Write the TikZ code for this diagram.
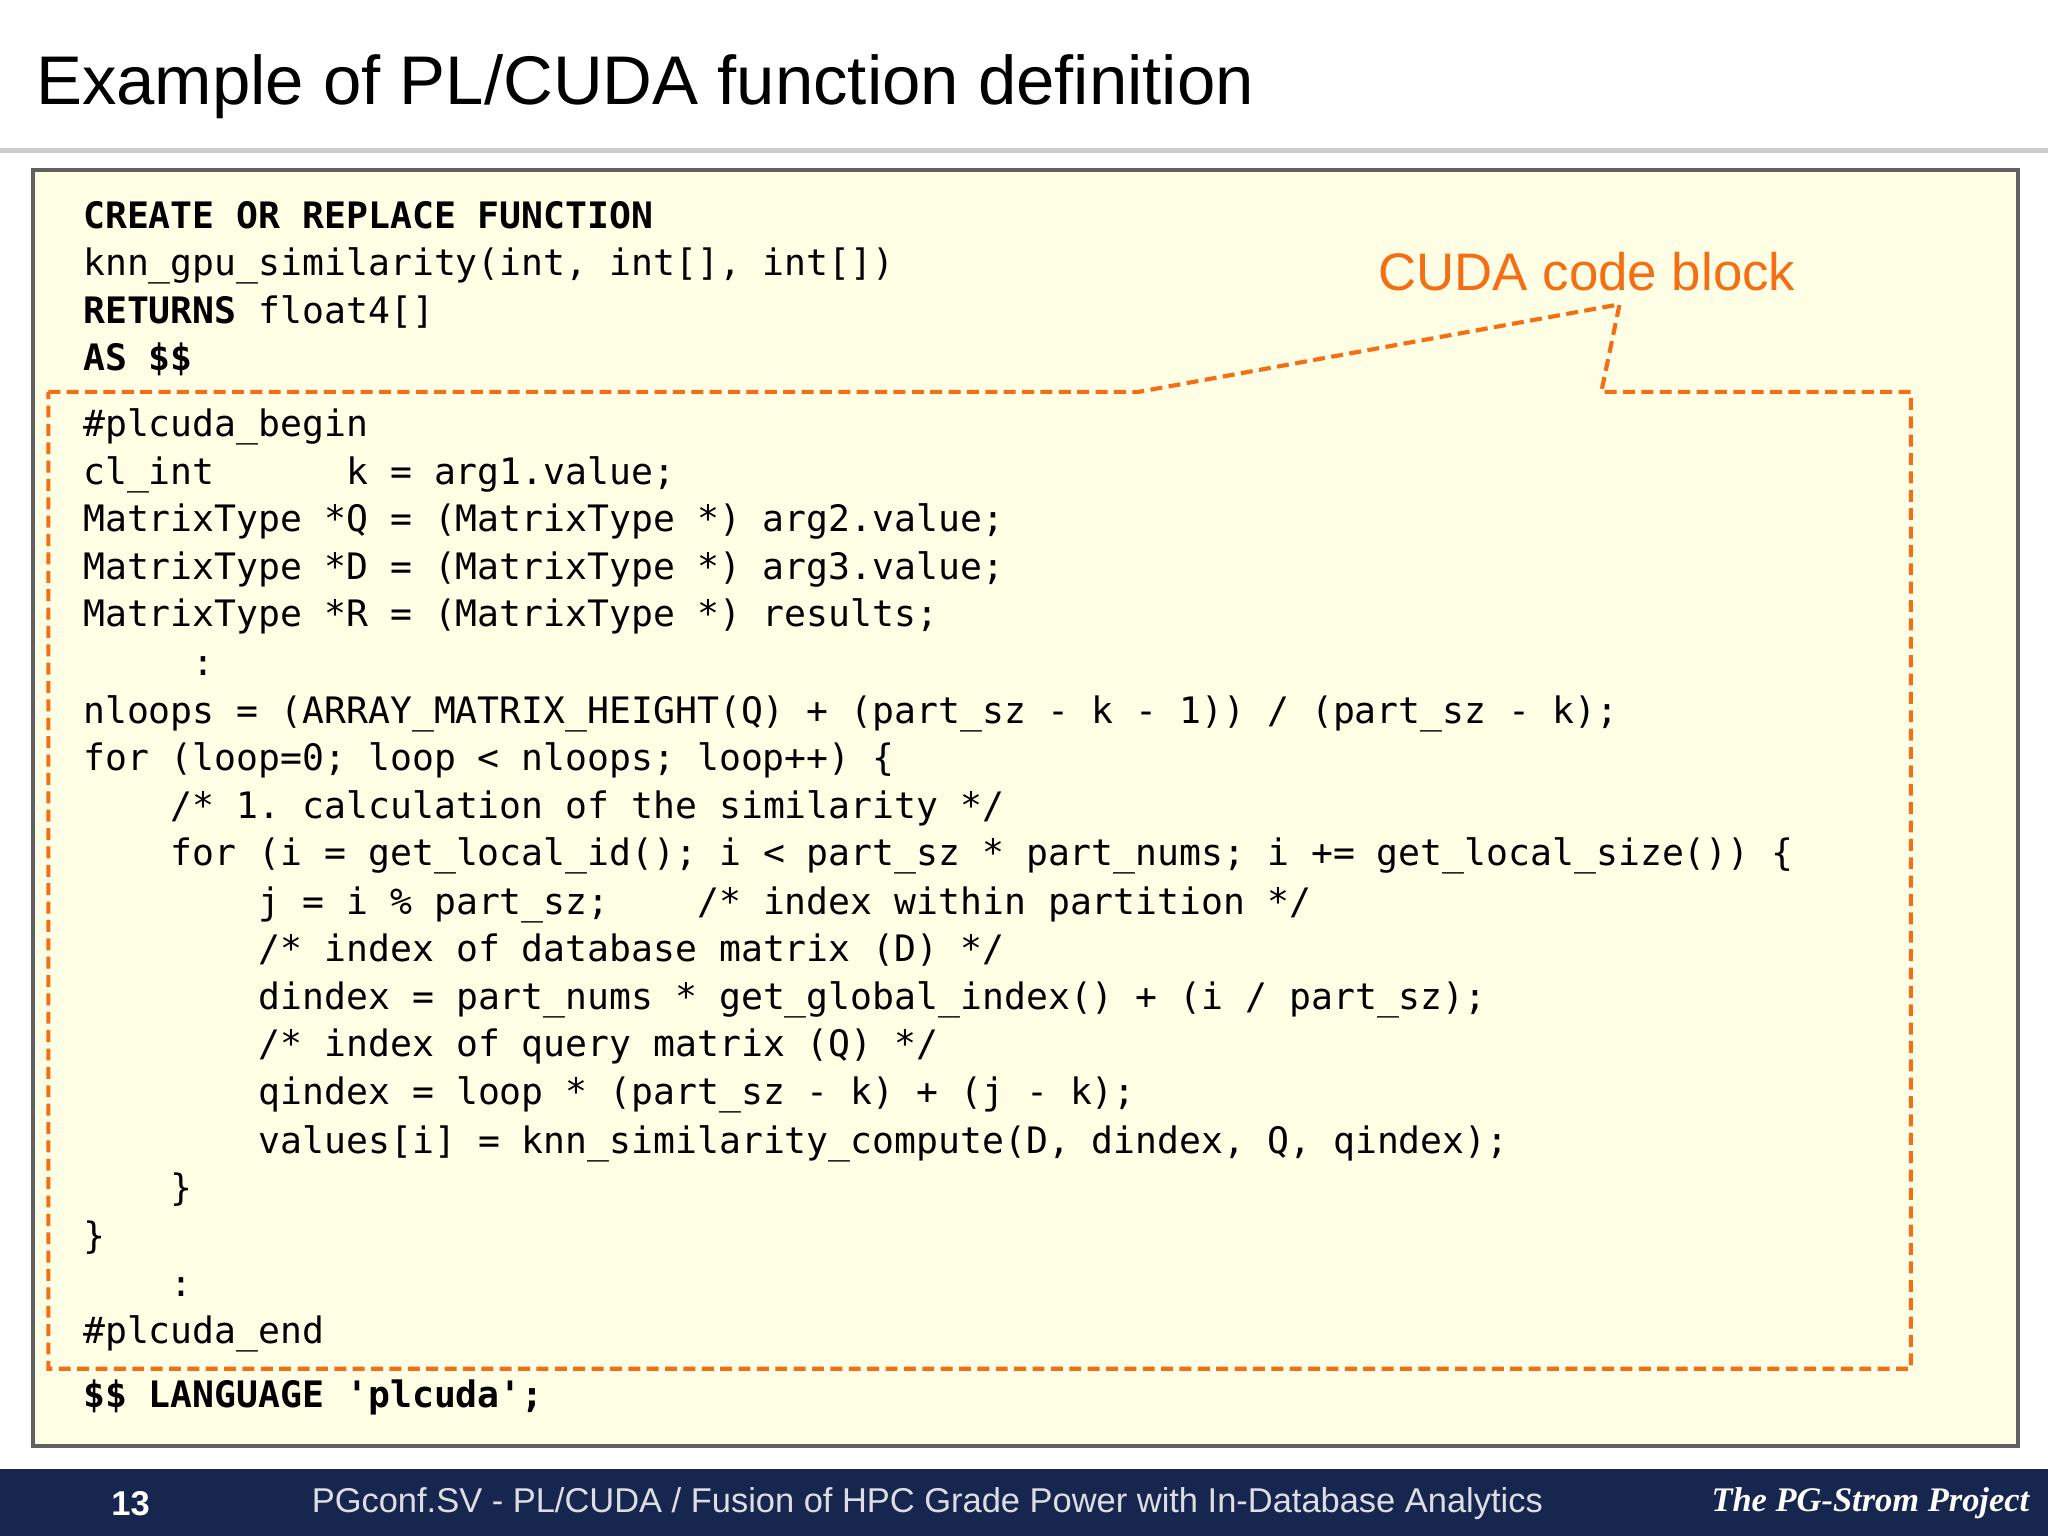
\documentclass[tikz,border=0pt]{standalone}
\usepackage{fontspec}
\setmainfont{Liberation Sans}
\setmonofont{DejaVu Sans Mono}
\begin{document}
\begin{tikzpicture}[x=0.01cm,y=-0.01cm,
  code/.style={anchor=base west,inner sep=0pt,font=\ttfamily\fontsize{7.93}{9}\selectfont},
  bcode/.style={code,font=\ttfamily\bfseries\fontsize{7.93}{9}\selectfont}]
\definecolor{bg}{RGB}{255,255,230}
\definecolor{org}{RGB}{245,110,20}
\definecolor{navy}{RGB}{22,38,78}
\useasboundingbox (0,0) rectangle (1568,1176);
\fill[white] (0,0) rectangle (1568,1176);
\node[anchor=base west,inner sep=0pt,font=\fontsize{15}{18}\selectfont] (title) at (27,80) {Example of PL/CUDA function definition};
\fill[gray!40] (0,113) rectangle (1568,117);
\draw[gray!75!black,line width=0.9pt,fill=bg] (25,130) rectangle (1545,1107);
\coordinate (c) at (1240,233);
\draw[org,line width=0.9pt,dash pattern=on 2.6pt off 1.4pt] (37,300) -- (872,300) -- (c) -- (1226,300) -- (1463,300) -- (1463,1048) -- (37,1048) -- cycle;
\node[org,font=\fontsize{11.5}{14}\selectfont,inner sep=0pt] (lbl) at (1215,208) {CUDA code block};
\def\X{63}\def\I{130.2}\def\II{197.4}
\node[bcode] (l1) at (\X,175) {CREATE OR REPLACE FUNCTION};
\node[code] (l2) at (\X,211) {knn\_gpu\_similarity(int, int[], int[])};
\node[code] (l3) at (\X,248) {\textbf{RETURNS} float4[]};
\node[bcode] (l4) at (\X,284) {AS \$\$};
\node[code] (l5) at (\X,334) {\#plcuda\_begin};
\node[code] (l6) at (\X,371) {cl\_int~~~~~~k = arg1.value;};
\node[code] (l7) at (\X,407) {MatrixType *Q = (MatrixType *) arg2.value;};
\node[code] (l8) at (\X,444) {MatrixType *D = (MatrixType *) arg3.value;};
\node[code] (l9) at (\X,480) {MatrixType *R = (MatrixType *) results;};
\node[code] (l10) at (\X,517) {~~~~~:};
\node[code] (l11) at (\X,554) {nloops = (ARRAY\_MATRIX\_HEIGHT(Q) + (part\_sz - k - 1)) / (part\_sz - k);};
\node[code] (l12) at (\X,590) {for (loop=0; loop < nloops; loop++) \{};
\node[code] (l13) at (\I,627) {/* 1. calculation of the similarity */};
\node[code] (l14) at (\I,663) {for (i = get\_local\_id(); i < part\_sz * part\_nums; i += get\_local\_size()) \{};
\node[code] (l15) at (\II,700) {j = i \% part\_sz;~~~~/* index within partition */};
\node[code] (l16) at (\II,736) {/* index of database matrix (D) */};
\node[code] (l17) at (\II,773) {dindex = part\_nums * get\_global\_index() + (i / part\_sz);};
\node[code] (l18) at (\II,809) {/* index of query matrix (Q) */};
\node[code] (l19) at (\II,846) {qindex = loop * (part\_sz - k) + (j - k);};
\node[code] (l20) at (\II,883) {values[i] = knn\_similarity\_compute(D, dindex, Q, qindex);};
\node[code] (l21) at (\I,919) {\}};
\node[code] (l22) at (\X,956) {\}};
\node[code] (l23) at (\I,993) {:};
\node[code] (l24) at (\X,1029) {\#plcuda\_end};
\node[bcode] (l25) at (\X,1078) {\$\$ LANGUAGE 'plcuda';};
\fill[navy] (0,1125) rectangle (1568,1176);
\node[white,font=\bfseries\fontsize{7.5}{9}\selectfont] (pg) at (100,1151) {13};
\node[white!85!navy,font=\fontsize{7.5}{9}\selectfont] (ft) at (710,1151) {PGconf.SV - PL/CUDA / Fusion of HPC Grade Power with In-Database Analytics};
\node[white,font=\bfseries\itshape\fontsize{7.5}{9}\selectfont] (proj) at (1432,1151) {\fontspec{Liberation Serif}The PG-Strom Project};
\end{tikzpicture}
\end{document}
